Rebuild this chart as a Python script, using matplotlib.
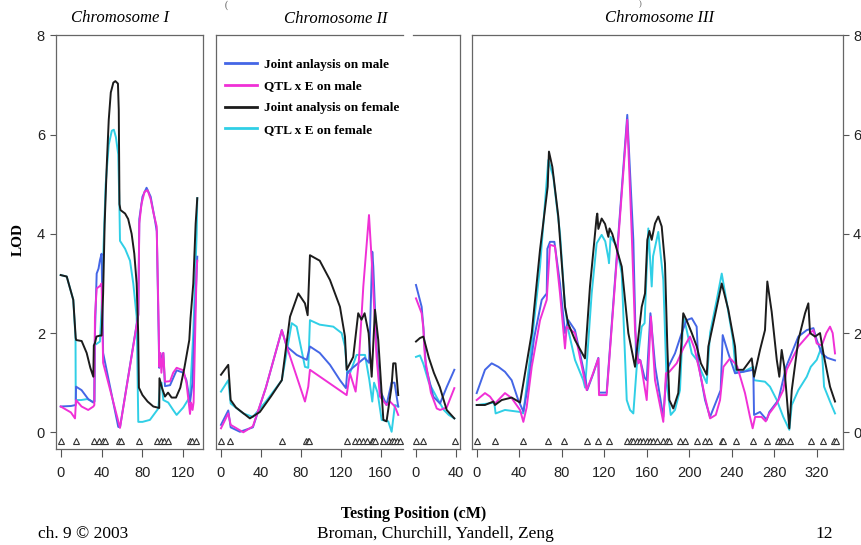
import numpy as np
import matplotlib
matplotlib.use("Agg")
import matplotlib.pyplot as plt
from matplotlib.lines import Line2D

# ---- data (cM position, LOD) ----
# Chromosome I
c1_jm_pos = [0, 10, 14.7, 15, 20.4, 26.9, 31.9, 32.9, 33.5, 35.2, 37, 38.4, 40, 41.5, 56.3, 58, 75.9, 76.9, 80, 84, 88, 92, 94, 96.4, 98, 100.4, 102, 107, 113.4, 120, 123, 126.5, 129, 131, 133.6]
c1_jm_lod = [0.52, 0.53, 0.55, 0.92, 0.85, 0.67, 0.6, 0.62, 2.0, 3.2, 3.3, 3.47, 3.6, 1.6, 0.11, 0.1, 2.38, 4.3, 4.75, 4.93, 4.75, 4.3, 4.05, 1.3, 1.5, 1.6, 0.93, 0.95, 1.25, 1.2, 1.05, 0.6, 1.0, 2.2, 3.54]
c1_qm_pos = [0, 10, 14, 15, 20.4, 26.9, 32, 32.9, 33.5, 35.2, 38.4, 40, 41.5, 58, 75.9, 76.9, 79, 82, 85, 88, 91, 93.9, 96, 96.4, 97.5, 98.5, 100.4, 102, 107, 110, 113.4, 120, 123, 126.5, 127.5, 129, 130, 133, 133.6]
c1_qm_lod = [0.52, 0.4, 0.28, 0.65, 0.52, 0.45, 0.52, 0.55, 2.33, 2.9, 2.95, 3.0, 1.4, 0.09, 2.36, 4.21, 4.6, 4.85, 4.88, 4.7, 4.4, 4.15, 2.0, 1.32, 1.6, 1.2, 1.6, 1.02, 1.03, 1.2, 1.3, 1.25, 1.0, 0.37, 0.6, 0.45, 0.6, 3.3, 3.46]
c1_jf_pos = [0, 5.9, 12.3, 14.7, 15.2, 20.5, 25.4, 29, 31.9, 32.4, 33.5, 35, 38.4, 40, 41.5, 43, 45, 47, 49, 51.5, 53.5, 56, 56.8, 57.5, 58.5, 63, 66, 69.4, 72, 74.3, 75.8, 76.5, 80, 85, 90.6, 96.4, 96.6, 99, 102, 105, 108.5, 112.8, 117, 121, 125.8, 127, 129.7, 132, 133.6]
c1_jf_lod = [3.17, 3.14, 2.67, 1.9, 1.86, 1.84, 1.6, 1.3, 1.12, 1.75, 1.8, 1.93, 1.95, 1.95, 2.8, 4.2, 5.35, 6.3, 6.85, 7.05, 7.08, 7.03, 6.5, 4.6, 4.48, 4.41, 4.3, 4.0, 3.6, 3.0, 2.0, 0.9, 0.75, 0.62, 0.52, 0.49, 1.09, 0.9, 0.72, 0.8, 0.7, 0.7, 0.9, 1.3, 1.86, 2.3, 3.0, 4.2, 4.72]
c1_qf_pos = [0, 5.9, 12.3, 14.5, 14.7, 20, 26, 31, 32.9, 33.5, 38.4, 40, 42, 44, 47, 50, 52, 54, 56.3, 57.5, 58, 63, 67.8, 71, 74.3, 75.9, 80, 87.3, 95.5, 97.1, 98.7, 100.4, 105.2, 110, 113.4, 119.9, 126.5, 129.7, 133, 133.6]
c1_qf_lod = [3.17, 3.14, 2.67, 1.9, 0.65, 0.65, 0.67, 0.62, 0.62, 1.76, 1.83, 2.5, 3.8, 5.0, 5.8, 6.08, 6.1, 5.95, 5.6, 4.5, 3.86, 3.7, 3.46, 3.0, 2.33, 0.21, 0.21, 0.25, 0.48, 0.92, 1.0, 0.65, 0.6, 0.45, 0.35, 0.5, 0.72, 2.0, 4.0, 4.72]

# Chromosome II
c2_jm_pos = [0, 7.3, 9.7, 19, 32, 45, 61, 65.9, 75.9, 86, 89.2, 99, 109.3, 119.3, 125.3, 126.5, 132, 138, 144, 148.5, 151.7, 152.7, 156, 159.4, 166, 171, 174, 177.7]
c2_jm_lod = [0.15, 0.44, 0.1, 0.01, 0.1, 0.9, 2.06, 1.73, 1.56, 1.46, 1.73, 1.6, 1.36, 1.05, 0.89, 1.2, 1.3, 1.4, 1.5, 1.4, 3.64, 3.34, 1.7, 0.85, 0.55, 1.0, 1.0, 0.52]
c2_qm_pos = [0, 7.3, 9.7, 22.4, 32, 45, 61, 65.9, 84.2, 87.5, 89.2, 126, 129.3, 135, 138.3, 142.7, 148.4, 151.7, 156, 159.4, 166, 169.4, 174.4, 177.7]
c2_qm_lod = [0.08, 0.38, 0.15, 0.0, 0.12, 0.9, 2.06, 1.73, 0.62, 0.92, 1.26, 0.75, 1.19, 0.82, 1.46, 2.94, 4.38, 3.27, 1.52, 0.72, 0.55, 0.62, 0.52, 0.35]
c2_jf_pos = [0, 7.3, 9.7, 15, 29, 39, 50, 61, 69.2, 77.5, 84.2, 86.9, 89.2, 99, 109.3, 119.3, 124.3, 126, 132.6, 137.6, 140.9, 144, 148, 151.1, 154.4, 157.7, 162.8, 166, 171, 172.7, 175, 177.7]
c2_jf_lod = [1.16, 1.36, 0.65, 0.5, 0.28, 0.41, 0.72, 1.05, 2.33, 2.8, 2.6, 2.36, 3.57, 3.46, 3.07, 2.53, 1.93, 1.26, 1.52, 2.4, 2.27, 2.4, 2.0, 1.12, 2.47, 1.86, 0.25, 0.22, 0.92, 1.39, 1.39, 0.75]
c2_qf_pos = [0, 7.3, 9.7, 22.4, 32, 45, 61, 70.9, 75.9, 84.2, 87.5, 89.2, 99, 112.6, 121, 124.3, 126.5, 129.3, 136, 144.4, 148.7, 151.7, 153.5, 157, 161.1, 167.7, 171.1, 174.4, 177.7]
c2_qf_lod = [0.82, 1.05, 0.58, 0.38, 0.31, 0.62, 1.05, 2.2, 2.13, 1.32, 1.3, 2.26, 2.17, 2.13, 2.0, 1.73, 1.2, 1.19, 1.56, 1.56, 1.06, 0.62, 1.0, 0.8, 0.25, 0.22, 0.01, 0.55, 0.52]

# Chromosome X
cx_jm_pos = [0, 5.7, 7.4, 10, 17.4, 24.2, 30.9, 38.6]
cx_jm_lod = [2.97, 2.53, 2.13, 1.32, 0.72, 0.58, 0.91, 1.26]
cx_qm_pos = [0, 5.7, 7.4, 9, 15, 20.9, 24.2, 30.9, 38.6]
cx_qm_lod = [2.7, 2.4, 2.1, 1.5, 0.8, 0.48, 0.45, 0.5, 0.89]
cx_jf_pos = [0, 4, 7.4, 13, 18, 24, 30.9, 38.6]
cx_jf_lod = [1.83, 1.9, 1.93, 1.5, 1.2, 0.91, 0.45, 0.28]
cx_qf_pos = [0, 4, 7.4, 13, 21, 28, 33, 38.6]
cx_qf_lod = [1.52, 1.55, 1.38, 1.0, 0.7, 0.45, 0.35, 0.28]

# Chromosome III
c3_jm_pos = [0, 7.8, 14.1, 20.4, 26.6, 32.9, 39.1, 43.9, 48, 54, 61.2, 65.9, 66.5, 69, 73.1, 78.4, 83.1, 86.2, 92.5, 102.6, 104, 110, 114.5, 115.1, 122.3, 141.7, 147.4, 150, 154, 158, 160, 163.5, 168, 175.6, 178, 180.3, 186.6, 192.9, 197.5, 202.4, 207, 208.6, 214.9, 219.6, 225.9, 229.6, 231.5, 236.8, 243.1, 250.9, 260.3, 261, 266.6, 272.9, 275.4, 283.9, 291.2, 302.7, 310.6, 316.9, 320, 324.7, 330, 337.2]
c3_jm_lod = [0.79, 1.26, 1.39, 1.32, 1.22, 1.05, 0.65, 0.42, 0.9, 1.9, 2.67, 2.8, 3.7, 3.84, 3.84, 3.0, 2.0, 2.26, 2.06, 1.05, 0.85, 1.2, 1.5, 0.8, 0.8, 6.4, 3.88, 1.5, 1.45, 1.1, 1.05, 2.4, 1.32, 0.31, 1.0, 1.32, 1.59, 2.0, 2.26, 2.3, 2.13, 1.39, 0.65, 0.31, 0.65, 0.85, 1.96, 1.59, 1.19, 1.22, 1.26, 0.35, 0.41, 0.25, 0.41, 0.65, 1.32, 1.93, 2.06, 2.1, 1.86, 1.59, 1.5, 1.45]
c3_qm_pos = [0, 7.8, 12.5, 17.2, 26.6, 32.9, 40.8, 43.9, 47, 51.8, 59.6, 65.9, 69, 73.7, 78.4, 83.1, 84.7, 92.5, 103.5, 108, 114.5, 115.1, 122.3, 141.7, 145.9, 149, 152.1, 154, 160, 164, 167.8, 175.6, 178.1, 181.3, 188.2, 194.4, 200.7, 205, 210.2, 215, 219.6, 225, 229, 232.2, 238.4, 243.1, 245.3, 252.5, 257.2, 259.7, 262, 268, 272, 275.4, 282.4, 288.5, 291.7, 302.7, 313.7, 316.9, 320, 324.7, 329, 332.5, 335, 337.2]
c3_qm_lod = [0.65, 0.79, 0.72, 0.58, 0.79, 0.69, 0.45, 0.21, 0.5, 1.32, 2.26, 2.67, 3.78, 3.75, 2.8, 1.69, 2.13, 2.0, 0.85, 1.1, 1.49, 0.75, 0.75, 6.3, 4.0, 2.06, 1.39, 1.45, 0.65, 2.33, 1.05, 0.21, 1.19, 1.22, 1.39, 1.69, 1.93, 1.69, 1.19, 0.7, 0.28, 0.35, 0.65, 1.32, 1.49, 1.39, 1.32, 0.79, 0.31, 0.08, 0.31, 0.31, 0.22, 0.38, 0.58, 0.85, 1.26, 1.73, 2.0, 2.06, 1.79, 1.75, 2.0, 2.13, 2.0, 1.59]
c3_jf_pos = [0, 7.8, 15.7, 17.2, 23.5, 32.9, 40.8, 43.9, 51.8, 59.6, 66.8, 68, 71.2, 76.8, 83.1, 86, 92.5, 101.9, 106.6, 112.9, 113.5, 114.5, 117.6, 120.8, 123.9, 125, 127.6, 136.5, 142.7, 149, 155.3, 158.4, 160.6, 162.5, 164.7, 167.8, 170.9, 174.1, 177.2, 179.4, 181.3, 185, 189.7, 194.4, 197.5, 202.4, 207.1, 211, 216.5, 218, 222.7, 230.6, 236.8, 243.1, 244.7, 250.9, 258.8, 261, 266.6, 271.3, 273.5, 277.6, 282.4, 284.8, 287, 289.5, 294.2, 296.5, 302.7, 309, 312.1, 313.7, 318.4, 323.1, 326.3, 332.5, 337.2]
c3_jf_lod = [0.55, 0.55, 0.62, 0.55, 0.65, 0.7, 0.6, 0.99, 2.0, 3.68, 4.95, 5.66, 5.35, 4.35, 2.53, 2.2, 1.86, 1.49, 2.94, 4.35, 4.41, 4.1, 4.31, 4.2, 3.94, 4.11, 4.0, 3.34, 2.0, 1.32, 2.53, 2.8, 3.88, 4.06, 3.88, 4.21, 4.35, 4.15, 3.4, 1.73, 0.65, 0.48, 0.79, 2.4, 2.26, 2.0, 1.73, 1.39, 1.16, 1.73, 2.2, 3.0, 2.47, 1.73, 1.26, 1.26, 1.49, 1.12, 1.66, 2.06, 3.04, 2.43, 1.46, 1.12, 1.66, 1.32, 0.08, 0.85, 1.86, 2.4, 2.6, 2.0, 1.93, 2.0, 1.59, 0.92, 0.62]
c3_qf_pos = [0, 11, 16.5, 17.8, 26.6, 40.8, 43.9, 51.8, 59.6, 67.4, 72.1, 78.4, 83.1, 86.2, 92.5, 100.3, 102, 108.2, 112.9, 117.6, 121, 124, 124.5, 126, 131.7, 136.5, 141.2, 144.3, 147.4, 150.6, 155.3, 158, 161.5, 164.7, 166, 170.9, 175.6, 178.8, 182.6, 186.6, 191.3, 194.4, 196.9, 202.4, 207.1, 212, 216.5, 219.6, 225.9, 230.6, 236, 241.2, 243.8, 250.9, 260.3, 261, 271.3, 276, 282.4, 288.5, 294.2, 296.5, 302.7, 310.6, 314.4, 320, 324.7, 326.9, 332.5, 337.2]
c3_qf_lod = [0.55, 0.58, 0.6, 0.38, 0.45, 0.41, 0.38, 1.8, 3.34, 5.49, 5.15, 4.01, 2.53, 2.06, 1.46, 1.05, 0.9, 2.8, 3.81, 3.98, 3.85, 3.5, 3.41, 3.94, 3.75, 3.2, 0.65, 0.45, 0.38, 1.32, 2.13, 2.2, 4.11, 2.94, 3.55, 4.04, 3.07, 0.99, 0.35, 0.45, 0.85, 2.33, 2.13, 1.59, 1.46, 1.2, 0.99, 2.0, 2.67, 3.2, 2.53, 1.86, 1.22, 1.22, 1.32, 1.05, 1.02, 0.92, 0.65, 0.31, 0.05, 0.55, 0.85, 1.12, 1.32, 1.46, 1.73, 0.92, 0.62, 0.38]

# marker positions (cM)
c1_markers = [0, 14.7, 32.9, 37.8, 41, 43.3, 57.3, 58.7, 76.9, 94.5, 98.3, 101.3, 105.2, 126.5, 128.1, 132.8]
c2_markers = [0, 9, 61, 85.2, 86.9, 88.5, 126, 134.3, 138.3, 142.7, 146.7, 151.1, 152.7, 154.4, 162.8, 168.8, 171.2, 173.5, 176.8, 179.5]
cx_markers = [0, 7.4, 39.5]
c3_markers = [0, 17.2, 43.9, 67.4, 82.4, 103.5, 114.5, 124.5, 141.7, 144.9, 147.4, 150.6, 153.7, 156.8, 160, 163.1, 166.2, 169.4, 175.6, 179.4, 181.3, 191.3, 196, 207, 214.9, 218.9, 230.6, 232.2, 244, 260.3, 273.5, 283.9, 286.1, 288, 294.9, 314.4, 325.6, 336.6, 337.9]

labels = ["Joint anlaysis on male", "QTL x E on male", "Joint analysis on female", "QTL x E on female"]
colors = ["#4466e6", "#f030d6", "#1c1c1c", "#30cfe6"]

# ---- layout ----
W, H = 862, 545
fig = plt.figure(figsize=(W / 100, H / 100), dpi=100)

def add_ax(l, r, t, b):
    return fig.add_axes([l / W, 1 - b / H, (r - l) / W, (b - t) / H])

ax1 = add_ax(56, 203.3, 35, 449)
ax2 = add_ax(216, 403, 35, 449)
axx = add_ax(413, 460, 35, 449)
ax3 = add_ax(471.7, 843.3, 35, 449)

panels = [
    (ax1, (-4.6, 139.5), [0, 40, 80, 120], c1_markers,
     [(c1_qf_pos, c1_qf_lod), (c1_jm_pos, c1_jm_lod), (c1_qm_pos, c1_qm_lod), (c1_jf_pos, c1_jf_lod)]),
    (ax2, (-5.0, 182.5), [0, 40, 80, 120, 160], c2_markers,
     [(c2_qf_pos, c2_qf_lod), (c2_jm_pos, c2_jm_lod), (c2_qm_pos, c2_qm_lod), (c2_jf_pos, c2_jf_lod)]),
    (axx, (-3.0, 44.3), [0, 40], cx_markers,
     [(cx_qf_pos, cx_qf_lod), (cx_jm_pos, cx_jm_lod), (cx_qm_pos, cx_qm_lod), (cx_jf_pos, cx_jf_lod)]),
    (ax3, (-4.7, 345.0), list(range(0, 321, 40)), c3_markers,
     [(c3_qf_pos, c3_qf_lod), (c3_jm_pos, c3_jm_lod), (c3_qm_pos, c3_qm_lod), (c3_jf_pos, c3_jf_lod)]),
]
# drawing order: cyan, blue, magenta, black
order_colors = [colors[3], colors[0], colors[1], colors[2]]

tick_font = dict(family=["Liberation Sans Narrow", "Liberation Sans", "DejaVu Sans"], size=10.5)
for ax, xlim, xt, marks, series in panels:
    for (p, v), c in zip(series, order_colors):
        ax.plot(p, v, color=c, lw=1.4, solid_joinstyle="round")
    ax.plot(marks, np.full(len(marks), -0.17), linestyle="none", marker="^", ms=5,
            mfc="white", mec="#333333", mew=0.8)
    ax.set_xlim(*xlim)
    ax.set_ylim(-0.337, 8.01)
    ax.set_xticks(xt)
    ax.set_xticklabels([str(t) for t in xt], fontdict=tick_font, color="#222222")
    ax.tick_params(axis="x", direction="out", length=6, width=0.8, color="#555555", pad=6)
    ax.set_yticks([])
    for s in ax.spines.values():
        s.set_color("#666666")
        s.set_linewidth(0.9)

ax2.spines["right"].set_visible(False)
axx.spines["left"].set_visible(False)

ax1.set_yticks([0, 2, 4, 6, 8])
ax1.set_yticklabels(["0", "2", "4", "6", "8"], fontdict=tick_font, color="#222222")
ax1.tick_params(axis="y", direction="out", length=4, width=0.8, color="#555555", pad=4)

ax3.yaxis.tick_right()
ax3.set_yticks([0, 2, 4, 6, 8])
ax3.set_yticklabels(["0", "2", "4", "6", "8"], fontdict=tick_font, color="#222222")
ax3.tick_params(axis="y", direction="out", length=4, width=0.8, color="#555555", pad=3)

# legend in chromosome II panel
handles = [Line2D([], [], color=c, lw=2) for c in colors]
ax2.legend(handles, labels, loc="upper left", bbox_to_anchor=(0.05, 0.943), frameon=False,
           prop=dict(family="Liberation Serif", weight="bold", size=9.5),
           handlelength=2.4, handletextpad=0.5, labelspacing=0.72, borderpad=0, borderaxespad=0)

serif = "Liberation Serif"

def ftext(x, y, s, **kw):
    fig.text(x / W, 1 - y / H, s, **kw)

ftext(120, 18, "Chromosome I", family=serif, style="italic", size=12, ha="center", va="center")
ftext(336, 19, "Chromosome II", family=serif, style="italic", size=12, ha="center", va="center")
ftext(660, 18, "Chromosome III", family=serif, style="italic", size=12, ha="center", va="center")
ftext(226, 5, "(", family=serif, size=7, color="#555555", ha="center", va="center")
ftext(640, 4, ")", family=serif, size=6, color="#555555", ha="center", va="center")

ftext(18, 240, "LOD", family=serif, weight="bold", size=11, rotation=90, ha="center", va="center")
ftext(414, 514, "Testing Position (cM)", family=serif, weight="bold", size=11.5, ha="center", va="center")
ftext(38, 534, "ch. 9 \u00a9 2003", family=serif, size=12.5, ha="left", va="center")
ftext(435, 534, "Broman, Churchill, Yandell, Zeng", family=serif, size=12.5, ha="center", va="center")
ftext(833, 534, "12", family=serif, size=12.5, ha="right", va="center")

fig.savefig("out.png", dpi=100)
